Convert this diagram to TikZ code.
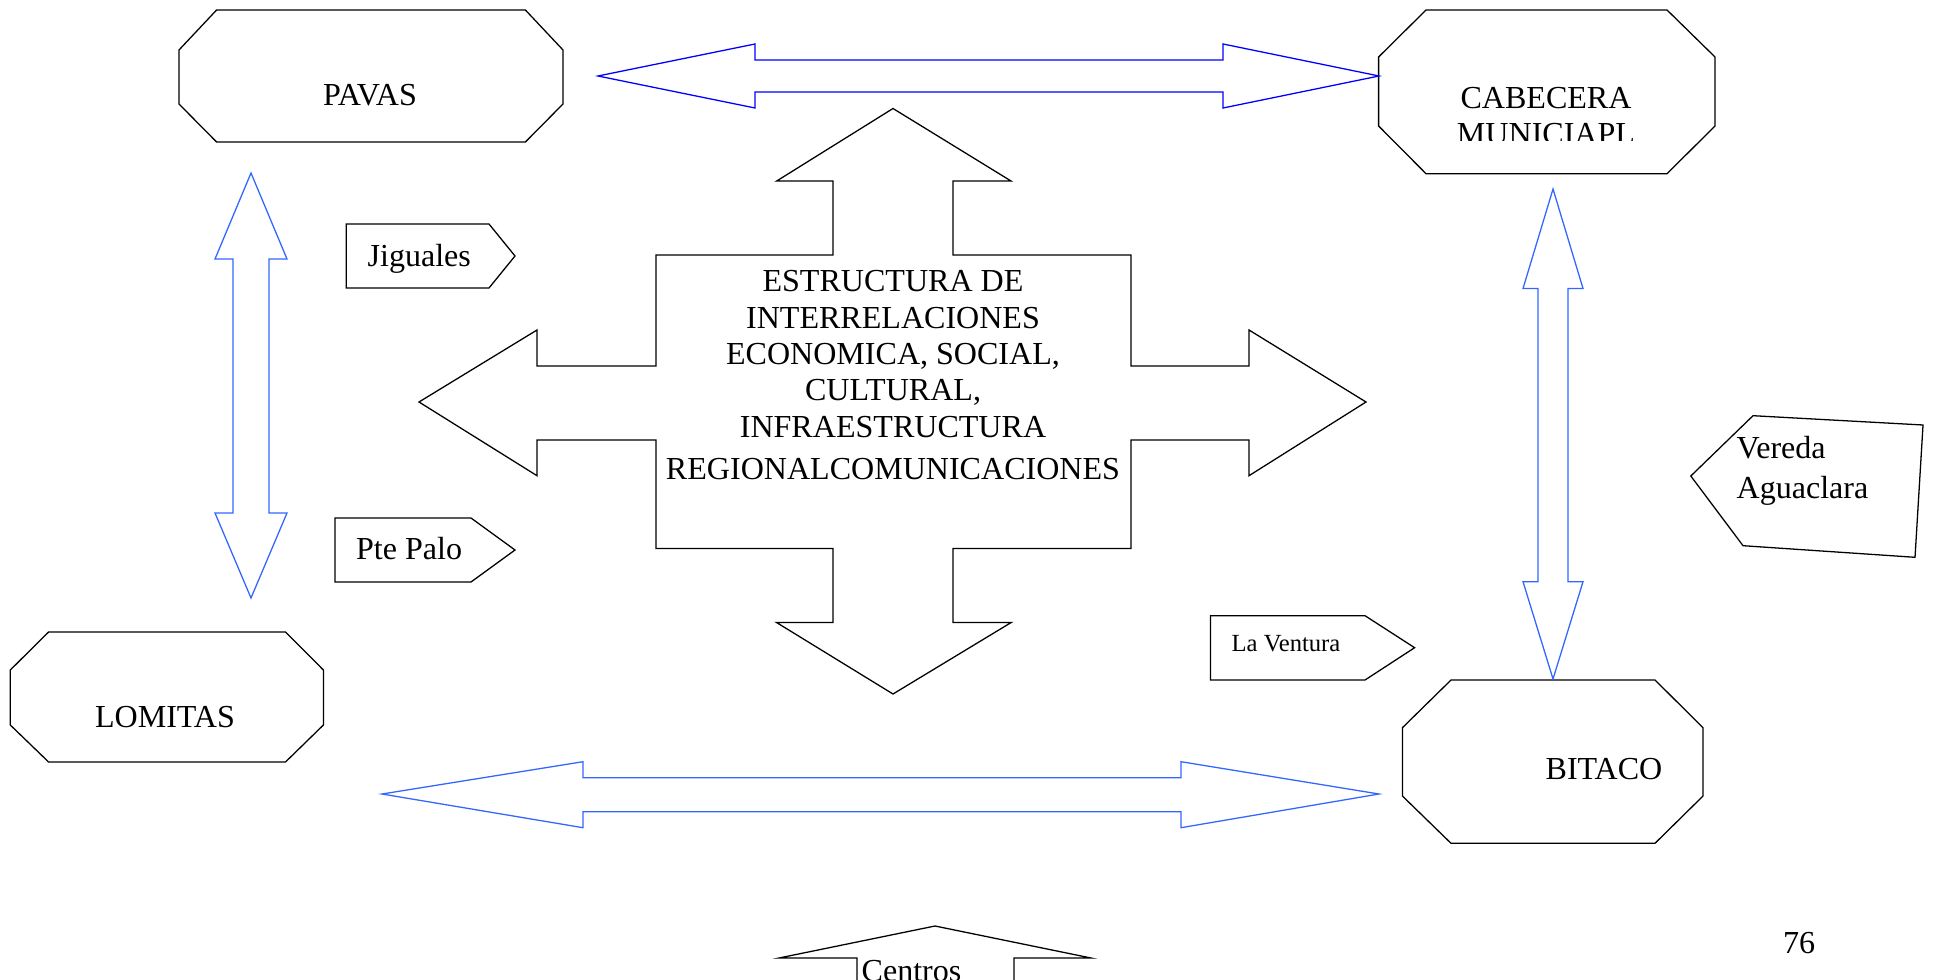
\documentclass[tikz,border=0pt]{standalone}
\usepackage{fontspec}
\setmainfont{Liberation Serif}
\definecolor{arrowblue}{RGB}{0,0,255}
\definecolor{paleblue}{RGB}{51,102,255}
\begin{document}
\begin{tikzpicture}[x=0.39pt,y=-0.39pt,line width=0.5pt,
    every node/.style={font=\fontsize{12.5}{14.2}\selectfont, inner sep=0pt}]
  \useasboundingbox (0,0) rectangle (1933,980);
  \clip (0,0) rectangle (1933,980);

  % towns
  \draw (179,50) -- (216.6,10) -- (525.4,10) -- (563,50) -- (563,104) -- (525.4,142) -- (216.6,142) -- (179,104) -- cycle;
  \node[anchor=base] (pavas) at (370,106) {PAVAS};
  \draw (10.3,670) -- (48.6,632) -- (285.5,632) -- (323.4,670) -- (323.4,725) -- (285.5,762) -- (48.6,762) -- (10.3,725) -- cycle;
  \node[anchor=base] (lomitas) at (165,727) {LOMITAS};
  \draw (1378.6,57) -- (1426,10) -- (1667,10) -- (1715,57) -- (1715,126) -- (1667,173.7) -- (1426,173.7) -- (1378.6,126) -- cycle;
  \begin{scope}
    \clip (1380,12) rectangle (1713,141);
    \node[anchor=north, align=center] (cabecera) at (1546,86.5) {CABECERA\\MUNICIAPL};
  \end{scope}
  \draw (1402.4,727.7) -- (1451,680) -- (1655,680) -- (1703,727.7) -- (1703,796) -- (1655,843.3) -- (1451,843.3) -- (1402.4,796) -- cycle;
  \node[anchor=base] (bitaco) at (1604,779.3) {BITACO};

  % blue double arrows
  \draw[arrowblue] (598,76) -- (755,44) -- (755,60) -- (1223,60) -- (1223,44) -- (1379,76) -- (1223,108) -- (1223,92) -- (755,92) -- (755,108) -- cycle;
  \draw[paleblue] (251,173) -- (287,259) -- (269,259) -- (269,513) -- (287,513) -- (251,598) -- (215,513) -- (233,513) -- (233,259) -- (215,259) -- cycle;
  \draw[paleblue] (1553,189) -- (1583,288.5) -- (1568,288.5) -- (1568,581.7) -- (1583,581.7) -- (1553,679) -- (1523,581.7) -- (1538,581.7) -- (1538,288.5) -- (1523,288.5) -- cycle;
  \draw[paleblue] (382,794) -- (583,761.7) -- (583,777.7) -- (1181,777.7) -- (1181,761.7) -- (1379,794) -- (1181,827.7) -- (1181,811.7) -- (583,811.7) -- (583,827.7) -- cycle;

  % central cross
  \draw (893,108.5) -- (1011,181) -- (953,181) -- (953,255) -- (1131,255) -- (1131,366) -- (1249,366) -- (1249,330) -- (1366,402) -- (1249,475.7) -- (1249,440) -- (1131,440) -- (1131,548.6) -- (953,548.6) -- (953,622.6) -- (1011,622.6) -- (893,694) -- (776.7,622.6) -- (833,622.6) -- (833,548.6) -- (656,548.6) -- (656,440) -- (537,440) -- (537,475.7) -- (419,402) -- (537,330) -- (537,366) -- (656,366) -- (656,255) -- (833,255) -- (833,181) -- (776.7,181) -- cycle;
  \node[anchor=north, align=center] (estructura) at (893,269.8) {ESTRUCTURA DE\\INTERRELACIONES\\ECONOMICA, SOCIAL,\\CULTURAL,\\INFRAESTRUCTURA\\[2.1pt]REGIONALCOMUNICACIONES};

  % veredas
  \draw (346.3,224) -- (489,224) -- (515,256) -- (489,288) -- (346.3,288) -- cycle;
  \node[anchor=base west] (jiguales) at (367,266) {Jiguales};
  \draw (335,518) -- (471,518) -- (515,550) -- (471,582) -- (335,582) -- cycle;
  \node[anchor=base west] (ptepalo) at (355.5,559.3) {Pte Palo};
  \draw (1210.4,615.7) -- (1365,615.7) -- (1414.6,647.7) -- (1365,680) -- (1210.4,680) -- cycle;
  \node[anchor=base west, font=\fontsize{9.6}{11}\selectfont] (laventura) at (1231,651.7) {La Ventura};
  \draw (1753,415.7) -- (1923,425) -- (1915,557.3) -- (1743,545.7) -- (1690.8,476) -- cycle;
  \node[anchor=north west, align=left, font=\fontsize{12.5}{15.6}\selectfont] (vereda) at (1736,435.5) {Vereda\\Aguaclara};

  % centros
  \draw (857,1000) -- (857,958) -- (779,958) -- (935,926) -- (1091,958) -- (1014,958) -- (1014,1000);
  \node[anchor=base west] (centros) at (861,981) {Centros};
  \node[anchor=base] (pagina) at (1799,953) {76};
\end{tikzpicture}
\end{document}
